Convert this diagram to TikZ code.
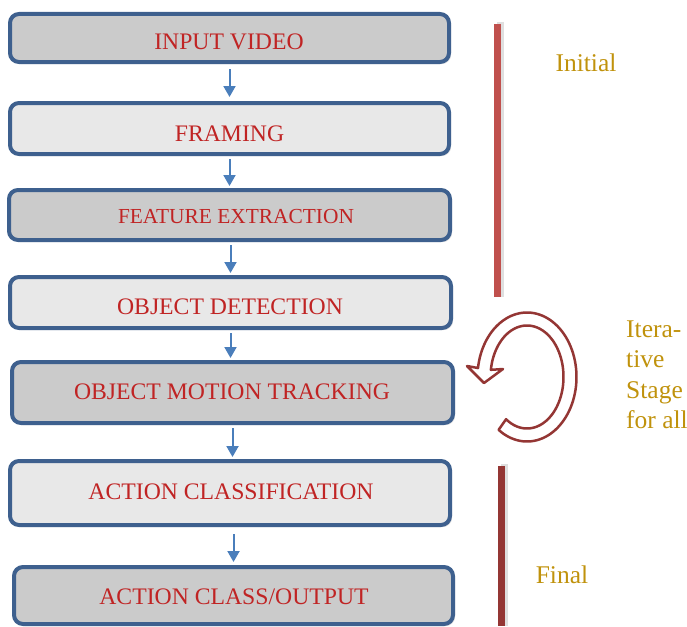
\documentclass[tikz,border=0pt]{standalone}
\usepackage{fontspec}
\setmainfont{Liberation Serif}
\usetikzlibrary{arrows.meta,shadows}

\definecolor{boxedge}{RGB}{62,96,142}
\definecolor{boxdark}{RGB}{203,203,203}
\definecolor{boxlight}{RGB}{232,232,232}
\definecolor{steptext}{RGB}{192,36,36}
\definecolor{flowblue}{RGB}{74,126,187}
\definecolor{stagegold}{RGB}{192,146,12}
\definecolor{initred}{RGB}{192,80,77}
\definecolor{finalred}{RGB}{148,54,52}

\tikzset{
  stepbox/.style={draw=boxedge, line width=4pt, rounded corners=9pt,
    drop shadow={shadow xshift=2pt, shadow yshift=-2pt, opacity=0.12, fill=black},
    inner sep=0pt},
  darkbox/.style={stepbox, fill=boxdark},
  lightbox/.style={stepbox, fill=boxlight},
  steplabel/.style={text=steptext, anchor=base, inner sep=0pt,
    font=\fontsize{23.7}{26}\selectfont},
  flow/.style={draw=flowblue, line width=2pt,
    -{Triangle[width=12pt,length=11pt]}, shorten <=3pt, shorten >=2pt},
  stagelabel/.style={text=stagegold, inner sep=0pt, anchor=base,
    font=\fontsize{25.5}{30}\selectfont},
  stagebar/.style={line width=7pt},
  loopmark/.style={draw=finalred, line width=2.5pt, fill=white, line join=round}
}

\begin{document}
\begin{tikzpicture}[x=1pt, y=-1pt]
  \useasboundingbox (0,0) rectangle (687,626);
  \clip (0,0) rectangle (687,626);

  % process steps
  \node[darkbox,  minimum width=439pt, minimum height=48pt] (b1) at (229.5,38)   {};
  \node[lightbox, minimum width=439pt, minimum height=51pt] (b2) at (229.5,128.5) {};
  \node[darkbox,  minimum width=441pt, minimum height=50pt] (b3) at (229.5,215)  {};
  \node[lightbox, minimum width=441pt, minimum height=51pt] (b4) at (230.5,302.5) {};
  \node[darkbox,  minimum width=441pt, minimum height=61pt] (b5) at (232.5,392.5) {};
  \node[lightbox, minimum width=440pt, minimum height=64pt] (b6) at (230,493)    {};
  \node[darkbox,  minimum width=439pt, minimum height=57pt] (b7) at (233.5,595.5) {};

  \node[steplabel] (t1) at (229,49.3)  {INPUT VIDEO};
  \node[steplabel] (t2) at (229.5,141) {FRAMING};
  \node[steplabel, font=\fontsize{21.4}{24}\selectfont] (t3) at (236,223.6) {FEATURE EXTRACTION};
  \node[steplabel] (t4) at (230,314.3) {OBJECT DETECTION};
  \node[steplabel] (t5) at (232,399.3) {OBJECT MOTION TRACKING};
  \node[steplabel] (t6) at (231,499.3) {ACTION CLASSIFICATION};
  \node[steplabel] (t7) at (234,604.3) {ACTION CLASS/OUTPUT};

  % connectors
  \draw[flow, shorten <=5pt, shorten >=4pt] (b1.south) -- (b1.south |- b2.north);
  \draw[flow] (b2.south) -- (b2.south |- b3.north);
  \draw[flow] (b4.north |- b3.south) -- (b4.north);
  \draw[flow] (b4.south) -- (b4.south |- b5.north);
  \draw[flow] (b5.south) -- (b5.south |- b6.north);
  \draw[flow, shorten <=7pt, shorten >=3pt] (b7.north |- b6.south) -- (b7.north);

  % stage markers
  \coordinate (initTop) at (497,24);
  \coordinate (initBot) at (497,297);
  \coordinate (finTop) at (501,466);
  \coordinate (finBot) at (501,626);
  \draw[stagebar, draw=black!25, opacity=0.5] ([xshift=3pt,yshift=2pt]initTop) -- ([xshift=3pt]initBot);
  \draw[stagebar, draw=initred] (initTop) -- (initBot);
  \draw[stagebar, draw=black!25, opacity=0.5] ([xshift=3pt,yshift=2pt]finTop) -- ([xshift=3pt]finBot);
  \draw[stagebar, draw=finalred] (finTop) -- (finBot);

  \node[stagelabel, anchor=base] (initial) at (586,71.7) {Initial};
  \node[stagelabel, anchor=base] (final) at (562,583) {Final};
  \node[stagelabel, anchor=base west] (it1) at (626,337) {Itera-};
  \node[stagelabel, anchor=base west] (it2) at (626,367.5) {tive};
  \node[stagelabel, anchor=base west] (it3) at (626,398) {Stage};
  \node[stagelabel, anchor=base west] (it4) at (626,428.5) {for all};

  % circular arrow of the iterative stage
  \draw[loopmark]
    plot[domain=235:532, samples=90] ({527+49.5*cos(\x)}, {377-64.5*sin(\x)})
    -- (467,366) -- (484,383) -- (503,369)
    -- plot[domain=235:532, samples=90] ({527+36.5*cos(767-\x)}, {377-51.5*sin(767-\x)})
    -- cycle;
\end{tikzpicture}
\end{document}
